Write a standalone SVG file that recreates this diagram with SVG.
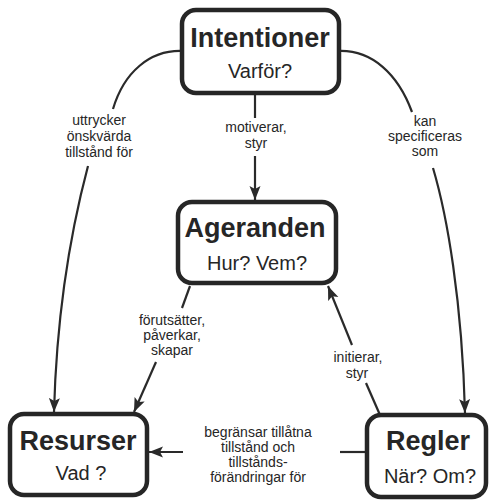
<svg xmlns="http://www.w3.org/2000/svg" width="489" height="500" viewBox="0 0 489 500">
  <style>
    .box { fill: #ffffff; stroke: #262626; stroke-width: 4.5; }
    .title { font-family: "Liberation Sans", Arial, sans-serif; font-weight: bold; font-size: 27px; fill: #262626; text-anchor: middle; }
    .sub { font-family: "Liberation Sans", Arial, sans-serif; font-size: 20px; fill: #262626; text-anchor: middle; }
    .lbl { font-family: "Liberation Sans", Arial, sans-serif; font-size: 14px; fill: #262626; text-anchor: middle; }
    .edge { fill: none; stroke: #2a2a2a; stroke-width: 2.2; }
  </style>
  <defs>
    <marker id="arrow" markerUnits="userSpaceOnUse" markerWidth="14" markerHeight="12" viewBox="0 0 14 12" refX="14" refY="6" orient="auto">
      <path d="M0,0.5 L14,6 L0,11.5 L3,6 Z" fill="#2a2a2a"/>
    </marker>
  </defs>

  <rect width="489" height="500" fill="#ffffff"/>

  <!-- connectors -->
  <g id="connectors">
    <!-- Intentioner -> Resurser -->
    <path class="edge" d="M182,51 C150,50 124,72 113,109"/>
    <path class="edge" d="M88,166 C75,215 57,300 54,412" marker-end="url(#arrow)"/>
    <text class="lbl" x="99" y="125">uttrycker</text>
    <text class="lbl" x="99" y="141">önskvärda</text>
    <text class="lbl" x="99" y="157">tillstånd för</text>

    <!-- Intentioner -> Regler -->
    <path class="edge" d="M339,51 C372,50 398,74 412,112"/>
    <path class="edge" d="M433,168 C447,215 462,300 465,413" marker-end="url(#arrow)"/>
    <text class="lbl" x="425" y="126">kan</text>
    <text class="lbl" x="425" y="141">specificeras</text>
    <text class="lbl" x="425" y="156">som</text>

    <!-- Intentioner -> Ageranden -->
    <path class="edge" d="M255,93 L255,118"/>
    <path class="edge" d="M255,156 L255,200" marker-end="url(#arrow)"/>
    <text class="lbl" x="256" y="132">motiverar,</text>
    <text class="lbl" x="256" y="148">styr</text>

    <!-- Ageranden -> Resurser -->
    <path class="edge" d="M190,286 L182,308"/>
    <path class="edge" d="M156,362 L134,412" marker-end="url(#arrow)"/>
    <text class="lbl" x="172" y="325">förutsätter,</text>
    <text class="lbl" x="172" y="340">påverkar,</text>
    <text class="lbl" x="172" y="355">skapar</text>

    <!-- Regler -> Ageranden -->
    <path class="edge" d="M380,415 L366,383"/>
    <path class="edge" d="M352,345 L328,286" marker-end="url(#arrow)"/>
    <text class="lbl" x="358" y="362">initierar,</text>
    <text class="lbl" x="357" y="378">styr</text>

    <!-- Regler -> Resurser -->
    <path class="edge" d="M367,452 L340,452"/>
    <path class="edge" d="M183,452 L149,452" marker-end="url(#arrow)"/>
    <text class="lbl" x="258" y="437">begränsar tillåtna</text>
    <text class="lbl" x="258" y="452">tillstånd och</text>
    <text class="lbl" x="258" y="467">tillstånds-</text>
    <text class="lbl" x="258" y="482">förändringar för</text>
  </g>

  <!-- nodes -->
  <g id="intentioner">
    <rect class="box" x="182" y="10" width="157" height="83" rx="14"/>
    <text class="title" x="260" y="47">Intentioner</text>
    <text class="sub" x="260" y="78">Varför?</text>
  </g>
  <g id="ageranden">
    <rect class="box" x="178" y="202" width="158" height="81" rx="14"/>
    <text class="title" x="255" y="237">Ageranden</text>
    <text class="sub" x="257" y="270">Hur? Vem?</text>
  </g>
  <g id="resurser">
    <rect class="box" x="10" y="414" width="137" height="81" rx="14"/>
    <text class="title" x="78" y="450">Resurser</text>
    <text class="sub" x="81" y="480">Vad ?</text>
  </g>
  <g id="regler">
    <rect class="box" x="367" y="415" width="119" height="82" rx="14"/>
    <text class="title" x="428" y="450">Regler</text>
    <text class="sub" x="430" y="483">När? Om?</text>
  </g>
</svg>
